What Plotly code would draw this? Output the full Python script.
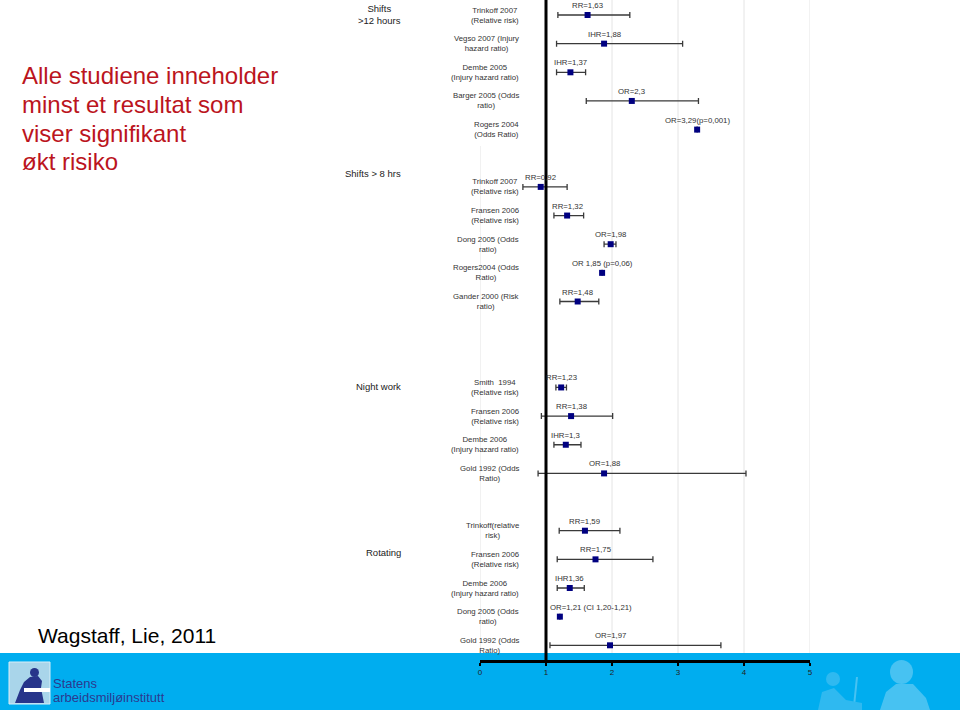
import plotly.graph_objects as go

# ---------------- data ----------------
group_labels = ["Shifts<br>>12 hours", "Shifts > 8 hrs", "Night work", "Rotating"]
group_sizes = [5, 5, 4, 5]

study_labels = [
    "Trinkoff 2007<br>(Relative risk)",
    "Vegso 2007 (Injury<br>hazard ratio)",
    "Dembe 2005<br>(Injury hazard ratio)",
    "Barger 2005 (Odds<br>ratio)",
    "Rogers 2004<br>(Odds Ratio)",
    "Trinkoff 2007<br>(Relative risk)",
    "Fransen 2006<br>(Relative risk)",
    "Dong 2005 (Odds<br>ratio)",
    "Rogers2004 (Odds<br>Ratio)",
    "Gander 2000 (Risk<br>ratio)",
    "Smith  1994<br>(Relative risk)",
    "Fransen 2006<br>(Relative risk)",
    "Dembe 2006<br>(Injury hazard ratio)",
    "Gold 1992 (Odds<br>Ratio)",
    "Trinkoff(relative<br>risk)",
    "Fransen 2006<br>(Relative risk)",
    "Dembe 2006<br>(Injury hazard ratio)",
    "Dong 2005 (Odds<br>ratio)",
    "Gold 1992 (Odds<br>Ratio)",
]
estimates = [1.63, 1.88, 1.37, 2.30, 3.29,
             0.92, 1.32, 1.98, 1.85, 1.48,
             1.23, 1.38, 1.30, 1.88,
             1.59, 1.75, 1.36, 1.21, 1.97]
ci_low = [1.18, 1.16, 1.16, 1.61, None,
          0.65, 1.12, 1.88, None, 1.21,
          1.15, 0.93, 1.12, 0.88,
          1.20, 1.17, 1.17, None, 1.06]
ci_high = [2.27, 3.07, 1.60, 3.31, None,
           1.32, 1.57, 2.06, None, 1.80,
           1.31, 2.01, 1.53, 4.03,
           2.12, 2.62, 1.58, None, 3.65]
value_labels = ["RR=1,63", "IHR=1,88", "IHR=1,37", "OR=2,3", "OR=3,29(p=0,001)",
                "RR=0,92", "RR=1,32", "OR=1,98", "OR 1,85 (p=0,06)", "RR=1,48",
                "RR=1,23", "RR=1,38", "IHR=1,3", "OR=1,88",
                "RR=1,59", "RR=1,75", "IHR1,36", "OR=1,21 (CI 1,20-1,21)", "OR=1,97"]
x_ticks = [0, 1, 2, 3, 4, 5]
x_tick_labels = ["0", "1", "2", "3", "4", "5"]
reference_value = 1

# ---------------- layout helpers ----------------
W, H = 960, 710
L, R, T, B = 480, 150, 0, 50
PW, PH = W - L - R, H - T - B

def pxx(p):
    return (p - L) / PW

def pxy(p):
    return 1 - (p - T) / PH

group_gap_before = [0, 1, 2, 1]
rows = []
r = 0
for g, n in enumerate(group_sizes):
    r += group_gap_before[g]
    for i in range(n):
        rows.append(r)
        r += 1

row0_px, row_step = 15, 28.65
y_top = -(row0_px - T) / row_step
y_bot = (T + PH - row0_px) / row_step

err_plus = [(h - v) if h is not None else 0 for v, h in zip(estimates, ci_high)]
err_minus = [(v - l) if l is not None else 0 for v, l in zip(estimates, ci_low)]

FONT = "Liberation Sans, Arial, sans-serif"

fig = go.Figure()
fig.add_trace(go.Scatter(
    x=estimates, y=rows, mode="markers",
    marker=dict(symbol="square", size=6, color="#000080"),
    error_x=dict(type="data", symmetric=False, array=err_plus, arrayminus=err_minus,
                 color="#3a3a3a", thickness=1.3, width=3),
    hoverinfo="x", showlegend=False,
))

shapes = []
# banner
shapes.append(dict(type="rect", xref="paper", yref="paper", layer="below",
                   x0=pxx(0), x1=pxx(W), y0=pxy(H), y1=pxy(653),
                   fillcolor="#00adef", line=dict(width=0)))
# gridlines
for t in x_ticks:
    shapes.append(dict(type="line", xref="x", yref="paper", layer="below",
                       x0=t, x1=t, y0=pxy(653), y1=1,
                       line=dict(color="#e4e4e4", width=1)))
# white label box over top-left grid
shapes.append(dict(type="rect", xref="paper", yref="paper", layer="below",
                   x0=pxx(470), x1=pxx(526), y0=pxy(146), y1=1,
                   fillcolor="white", line=dict(width=0)))
# reference line
shapes.append(dict(type="line", xref="x", yref="paper", layer="above",
                   x0=reference_value, x1=reference_value, y0=0, y1=1,
                   line=dict(color="black", width=3)))

# logo
shapes.append(dict(type="rect", xref="paper", yref="paper", layer="below",
                   x0=pxx(9), x1=pxx(50), y0=pxy(704), y1=pxy(662),
                   fillcolor="#a9d5ea", line=dict(color="#d8eef8", width=1)))
def path(pts):
    return "M " + " L ".join(f"{pxx(a)},{pxy(b)}" for a, b in pts) + " Z"
shapes.append(dict(type="path", xref="paper", yref="paper", layer="below",
                   path=path([(15, 703), (20, 690), (24, 682), (30, 677), (38, 676),
                              (42, 681), (41, 688), (44, 703)]),
                   fillcolor="#27358a", line=dict(width=0)))
shapes.append(dict(type="circle", xref="paper", yref="paper", layer="below",
                   x0=pxx(30), x1=pxx(39), y0=pxy(677), y1=pxy(668),
                   fillcolor="#27358a", line=dict(width=0)))
shapes.append(dict(type="rect", xref="paper", yref="paper", layer="below",
                   x0=pxx(24), x1=pxx(50), y0=pxy(692), y1=pxy(688),
                   fillcolor="white", line=dict(width=0)))
# faint silhouettes on the right
sil = "#47c2f2"
shapes.append(dict(type="circle", xref="paper", yref="paper", layer="below",
                   x0=pxx(890), x1=pxx(913), y0=pxy(684), y1=pxy(660),
                   fillcolor=sil, line=dict(width=0)))
shapes.append(dict(type="path", xref="paper", yref="paper", layer="below",
                   path=path([(880, 710), (886, 692), (896, 684), (913, 684),
                              (926, 698), (930, 710)]),
                   fillcolor=sil, line=dict(width=0)))
shapes.append(dict(type="line", xref="paper", yref="paper", layer="below",
                   x0=pxx(857), x1=pxx(854), y0=pxy(677), y1=pxy(706),
                   line=dict(color=sil, width=2)))
shapes.append(dict(type="circle", xref="paper", yref="paper", layer="below",
                   x0=pxx(826), x1=pxx(840), y0=pxy(686), y1=pxy(672),
                   fillcolor="#2fb9f0", line=dict(width=0)))
shapes.append(dict(type="path", xref="paper", yref="paper", layer="below",
                   path=path([(818, 710), (822, 692), (834, 688), (846, 700), (862, 703), (862, 710)]),
                   fillcolor="#2fb9f0", line=dict(width=0)))

ann = []
# value labels
label_override = {17: ("left", -12)}
for i, (v, rr, txt) in enumerate(zip(estimates, rows, value_labels)):
    xa, xs = label_override.get(i, ("center", 0))
    ann.append(dict(x=v, y=rr, xref="x", yref="y", text=txt, showarrow=False,
                    xanchor=xa, xshift=xs, yanchor="bottom", yshift=3,
                    font=dict(family=FONT, size=7.8, color="#333333")))
# study labels
for lab, rr in zip(study_labels, rows):
    ann.append(dict(x=pxx(521), y=rr, xref="paper", yref="y", text=lab, showarrow=False,
                    xanchor="right", yanchor="middle", align="center",
                    font=dict(family=FONT, size=7.8, color="#333333")))
# group labels
group_label_px = [14, 173, 387, 552]
for lab, yp in zip(group_labels, group_label_px):
    ann.append(dict(x=pxx(403), y=pxy(yp), xref="paper", yref="paper", text=lab,
                    showarrow=False, xanchor="right", yanchor="middle", align="center",
                    font=dict(family=FONT, size=9.5, color="#222222")))
# red headline
headline = ["Alle studiene inneholder", "minst et resultat som", "viser signifikant", "økt risiko"]
for k, line in enumerate(headline):
    ann.append(dict(x=pxx(20), y=pxy(76 + 28.5 * k), xref="paper", yref="paper",
                    text=line, showarrow=False, xanchor="left", yanchor="middle",
                    font=dict(family=FONT, size=24, color="#bb1420")))
ann.append(dict(x=pxx(36), y=pxy(635), xref="paper", yref="paper",
                text="Wagstaff, Lie, 2011", showarrow=False, xanchor="left", yanchor="middle",
                font=dict(family=FONT, size=21, color="black")))
ann.append(dict(x=pxx(51), y=pxy(683), xref="paper", yref="paper", text="Statens",
                showarrow=False, xanchor="left", yanchor="middle",
                font=dict(family=FONT, size=13, color="#2b3a8f")))
ann.append(dict(x=pxx(51), y=pxy(697), xref="paper", yref="paper", text="arbeidsmiljøinstitutt",
                showarrow=False, xanchor="left", yanchor="middle",
                font=dict(family=FONT, size=13, color="#2b3a8f")))

fig.update_layout(
    width=W, height=H,
    margin=dict(l=L, r=R, t=T, b=B, pad=0),
    paper_bgcolor="white", plot_bgcolor="rgba(0,0,0,0)",
    shapes=shapes, annotations=ann, showlegend=False,
    xaxis=dict(range=[0, 5], tickvals=x_ticks, ticktext=x_tick_labels,
               showgrid=False, zeroline=False, showline=True, linecolor="black",
               linewidth=2.5, ticks="outside", ticklen=3, tickwidth=1.5, tickcolor="black",
               tickfont=dict(family=FONT, size=8, color="#222222"), fixedrange=True),
    yaxis=dict(range=[y_bot, y_top], visible=False, fixedrange=True),
)

fig.write_html("out.html", config={"displayModeBar": False},
               post_script="document.body.style.margin='0';document.body.style.overflow='hidden';")
